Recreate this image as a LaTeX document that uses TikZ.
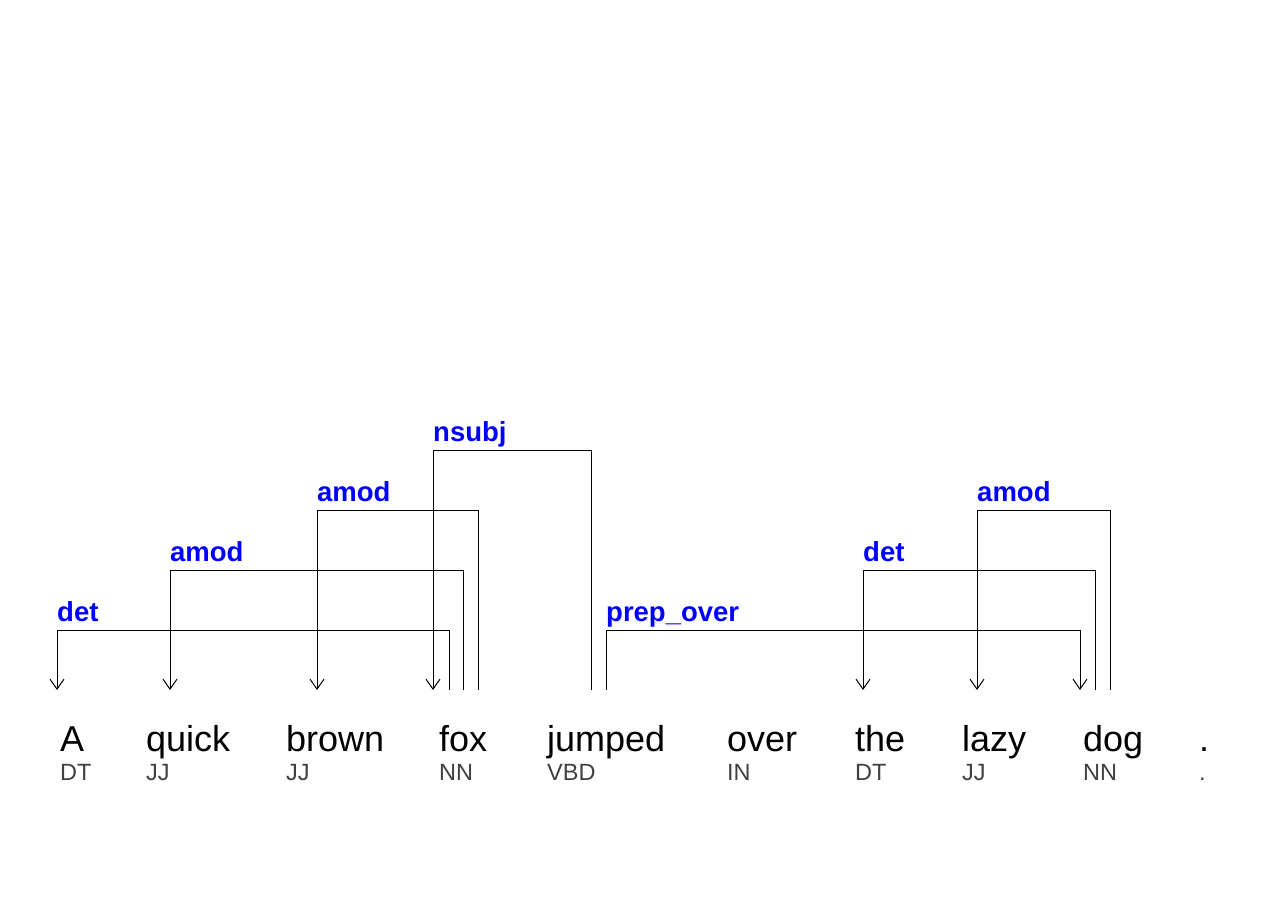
\documentclass[tikz,border=0pt]{standalone}
\usepackage{fontspec}
\setmainfont{Liberation Sans}
\usetikzlibrary{arrows.meta}
\definecolor{tagcol}{RGB}{64,64,64}
\tikzset{
	word/.style = {anchor = base west, inner sep = 0pt, font = \fontsize{36}{36}\selectfont},
	tag/.style = {anchor = base west, inner sep = 0pt, text = tagcol, font = \fontsize{23.5}{24}\selectfont},
	lab/.style = {anchor = base west, inner sep = 0pt, text = blue, font = \bfseries\fontsize{27.5}{28}\selectfont},
	dep/.style = {line width = 1pt, -{Straight Barb[length=10pt,width=14pt]}}
}

\begin{document}
\begin{tikzpicture}[x=1pt,y=-1pt]
	\useasboundingbox (0,0) rectangle (1263,900);
	% words and tags
	\node[word] (w1) at (60,751) {A};
	\node[word] (w2) at (146,751) {quick};
	\node[word] (w3) at (286,751) {brown};
	\node[word] (w4) at (439,751) {fox};
	\node[word] (w5) at (547,751) {jumped};
	\node[word] (w6) at (727,751) {over};
	\node[word] (w7) at (855,751) {the};
	\node[word] (w8) at (962,751) {lazy};
	\node[word] (w9) at (1083,751) {dog};
	\node[word] (w10) at (1199,751) {.};
	\node[tag] (t1) at (60,780) {DT};
	\node[tag] (t2) at (146,780) {JJ};
	\node[tag] (t3) at (286,780) {JJ};
	\node[tag] (t4) at (439,780) {NN};
	\node[tag] (t5) at (547,780) {VBD};
	\node[tag] (t6) at (727,780) {IN};
	\node[tag] (t7) at (855,780) {DT};
	\node[tag] (t8) at (962,780) {JJ};
	\node[tag] (t9) at (1083,780) {NN};
	\node[tag] (t10) at (1199,780) {.};
	% ends of the arcs
	\coordinate (in1) at (57,690);
	\coordinate (in2) at (170,690);
	\coordinate (in3) at (317,690);
	\coordinate (in4) at (433,690);
	\coordinate (out4a) at (449,690);
	\coordinate (out4b) at (463,690);
	\coordinate (out4c) at (478,690);
	\coordinate (out5a) at (591,690);
	\coordinate (out5b) at (606,690);
	\coordinate (in7) at (863,690);
	\coordinate (in8) at (977,690);
	\coordinate (in9) at (1080,690);
	\coordinate (out9a) at (1095,690);
	\coordinate (out9b) at (1110,690);
	% arcs
	\draw[dep] (out4a) -- (out4a |- 0,630) -| (in1);
	\draw[dep] (out4b) -- (out4b |- 0,570) -| (in2);
	\draw[dep] (out4c) -- (out4c |- 0,510) -| (in3);
	\draw[dep] (out5a) -- (out5a |- 0,450) -| (in4);
	\draw[dep] (out5b) -- (out5b |- 0,630) -| (in9);
	\draw[dep] (out9a) -- (out9a |- 0,570) -| (in7);
	\draw[dep] (out9b) -- (out9b |- 0,510) -| (in8);
	% labels
	\node[lab] (l1) at (57,621) {det};
	\node[lab] (l2) at (170,561) {amod};
	\node[lab] (l3) at (317,501) {amod};
	\node[lab] (l4) at (433,441) {nsubj};
	\node[lab] (l5) at (606,621) {prep\_over};
	\node[lab] (l6) at (863,561) {det};
	\node[lab] (l7) at (977,501) {amod};
\end{tikzpicture}
\end{document}
